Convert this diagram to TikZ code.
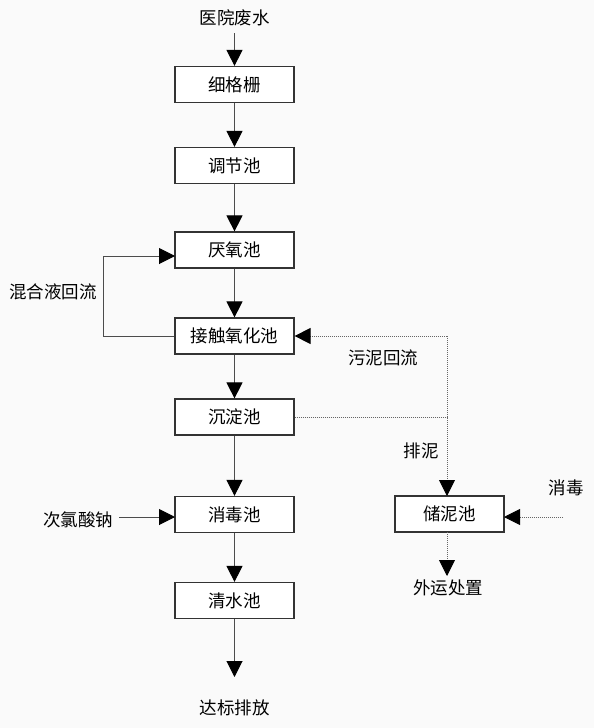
\documentclass[tikz,border=0pt]{standalone}
\usepackage{fontspec}
\setmainfont{Noto Sans CJK SC}
\usetikzlibrary{arrows.meta}
\begin{document}
\begin{tikzpicture}[x=1pt,y=-1pt,
  box/.style={draw=black!80,line width=1.2pt,minimum width=119pt,minimum height=36pt,inner sep=0pt,font=\fontsize{17.5}{17.5}\selectfont,fill=white},
  lbl/.style={inner sep=0pt,font=\fontsize{17.5}{17.5}\selectfont},
  tip/.style={-{Triangle[length=16pt,width=16pt,fill=black,color=black]}},
  arr/.style={draw=black!70,line width=1pt,tip},
  dot/.style={draw=black!60,line width=0.9pt,dash pattern=on 1pt off 1pt},
  darr/.style={dot,tip}]
\fill[black!2] (0,0) rectangle (594,728);
\useasboundingbox (0,0) rectangle (594,728);
\node[lbl] (src) at (234.5,18) {医院废水};
\node[box] (b1) at (234.5,84.5) {细格栅};
\node[box] (b2) at (234.5,165.5) {调节池};
\node[box] (b3) at (234.5,250) {厌氧池};
\node[box] (b4) at (234.5,336) {接触氧化池};
\node[box] (b5) at (234.5,417) {沉淀池};
\node[box] (b6) at (234.5,514.5) {消毒池};
\node[box] (b7) at (234.5,600.5) {清水池};
\node[box,minimum width=109pt] (s) at (449.5,514) {储泥池};
\node[lbl] (out) at (234.5,708) {达标排放};
\node[lbl] (mix) at (53,292) {混合液回流};
\node[lbl] (naclo) at (78,520) {次氯酸钠};
\node[lbl] (ret) at (383,358) {污泥回流};
\node[lbl] (pai) at (421,451) {排泥};
\node[lbl] (dis) at (566,488) {消毒};
\node[lbl] (ext) at (448,588) {外运处置};
\coordinate (srcE) at (234.5,33);
\coordinate (eout) at (234.5,677);
\coordinate (loopA) at (103,336);
\coordinate (loopB) at (103,256);
\coordinate (b3in) at (175,256);
\coordinate (jtop) at (447,336);
\coordinate (jmid) at (447,417);
\coordinate (sTop) at (447,496);
\coordinate (sBot) at (447,532);
\coordinate (disS) at (563,517);
\coordinate (disE) at (504,517);
\coordinate (naS) at (119,517);
\coordinate (naE) at (175,517);
\coordinate (extE) at (447,576);
\draw[arr] (srcE) -- (b1.north);
\draw[arr] (b1) -- (b2);
\draw[arr] (b2) -- (b3);
\draw[arr] (b3) -- (b4);
\draw[arr] (b4) -- (b5);
\draw[arr] (b5) -- (b6);
\draw[arr] (b6) -- (b7);
\draw[arr] (b7) -- (eout);
\draw[arr] (b4.west) -- (loopA) -- (loopB) -- (b3in);
\draw[arr] (naS) -- (naE);
\draw[darr] (jtop) -- (b4.east);
\draw[dot] (b5.east) -- (jmid);
\draw[darr] (jtop) -- (sTop);
\draw[darr] (disS) -- (disE);
\draw[darr] (sBot) -- (extE);
\end{tikzpicture}
\end{document}
